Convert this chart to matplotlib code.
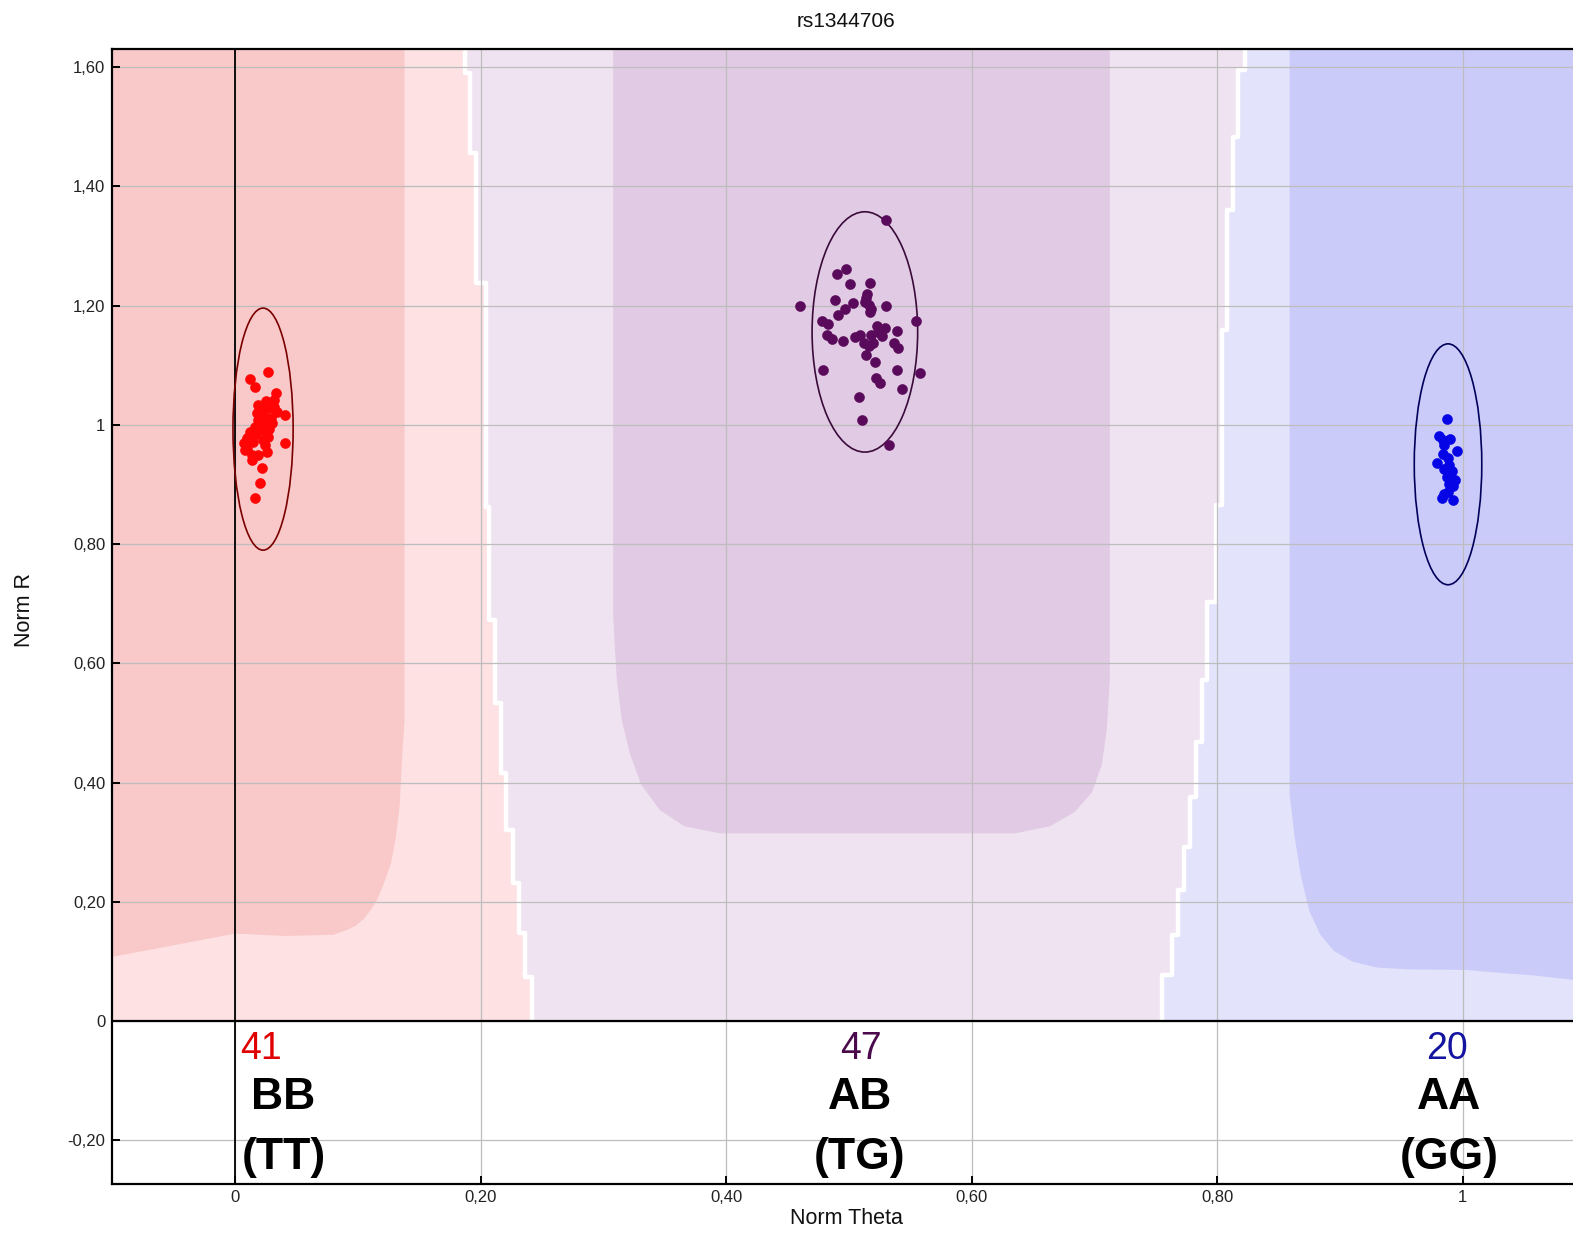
import matplotlib
matplotlib.use("Agg")
import matplotlib.pyplot as plt
from matplotlib.patches import Ellipse

plt.rcParams["font.family"] = ["Liberation Sans", "DejaVu Sans"]

TITLE = "rs1344706"
XMIN, XMAX = -0.1, 1.0955
YMIN, YMAX = -0.273, 1.630

X_TICKS = [0, 0.2, 0.4, 0.6, 0.8, 1]
X_TICK_LABELS = ["0", "0,20", "0,40", "0,60", "0,80", "1"]
Y_TICKS = [-0.2, 0, 0.2, 0.4, 0.6, 0.8, 1, 1.2, 1.4, 1.6]
Y_TICK_LABELS = ["-0,20", "0", "0,20", "0,40", "0,60", "0,80", "1", "1,20", "1,40", "1,60"]

# cluster calls (Norm Theta, Norm R)
BB_X = [0.027, 0.012, 0.016, 0.033, 0.032, 0.019, 0.028, 0.041, 0.023, 0.019,
        0.026, 0.016, 0.030, 0.012, 0.022, 0.010, 0.027, 0.015, 0.007, 0.041,
        0.024, 0.008, 0.026, 0.019, 0.014, 0.022, 0.020, 0.016, 0.025, 0.022,
        0.029, 0.017, 0.023, 0.010, 0.032, 0.020, 0.028, 0.014, 0.025, 0.018,
        0.034]
BB_Y = [1.089, 1.077, 1.063, 1.053, 1.042, 1.034, 1.028, 1.017, 1.017, 1.008,
        1.006, 0.997, 1.003, 0.989, 0.992, 0.978, 0.980, 0.972, 0.969, 0.969,
        0.966, 0.958, 0.955, 0.950, 0.941, 0.927, 0.902, 0.877, 1.040, 1.025,
        1.012, 0.985, 0.975, 0.960, 1.030, 0.998, 0.993, 0.950, 1.000, 1.020,
        1.022]

AB_X = [0.530, 0.498, 0.490, 0.501, 0.517, 0.460, 0.489, 0.514, 0.516, 0.530,
        0.497, 0.491, 0.517, 0.555, 0.478, 0.483, 0.523, 0.529, 0.539, 0.482,
        0.509, 0.518, 0.527, 0.486, 0.495, 0.512, 0.520, 0.537, 0.540, 0.514,
        0.521, 0.479, 0.539, 0.558, 0.522, 0.525, 0.543, 0.508, 0.511, 0.533,
        0.515, 0.513, 0.518, 0.505, 0.524, 0.516, 0.503]
AB_Y = [1.344, 1.262, 1.253, 1.237, 1.238, 1.200, 1.209, 1.213, 1.201, 1.200,
        1.194, 1.185, 1.190, 1.174, 1.175, 1.169, 1.166, 1.162, 1.158, 1.151,
        1.151, 1.151, 1.149, 1.144, 1.140, 1.138, 1.137, 1.138, 1.129, 1.117,
        1.105, 1.092, 1.092, 1.087, 1.078, 1.070, 1.060, 1.047, 1.008, 0.966,
        1.220, 1.207, 1.195, 1.148, 1.156, 1.132, 1.205]

AA_X = [0.987, 0.981, 0.990, 0.985, 0.995, 0.984, 0.988, 0.979, 0.989, 0.985,
        0.991, 0.987, 0.994, 0.989, 0.992, 0.985, 0.983, 0.992, 0.988, 0.984]
AA_Y = [1.010, 0.982, 0.976, 0.966, 0.957, 0.951, 0.944, 0.936, 0.933, 0.926,
        0.922, 0.913, 0.907, 0.901, 0.897, 0.885, 0.877, 0.874, 0.888, 0.975]

COUNTS = ["41", "47", "20"]
CALLS = ["BB", "AB", "AA"]
ALLELES = ["(TT)", "(TG)", "(GG)"]

# cluster ellipses: centre x, centre y, width, height
ELL_X = [0.0228, 0.513, 0.988]
ELL_Y = [0.993, 1.156, 0.934]
ELL_W = [0.049, 0.086, 0.055]
ELL_H = [0.406, 0.403, 0.404]

# call-region boundaries, stepped (y breaks top -> bottom, x per step)
BB_AB_Y = [1.631, 1.591, 1.456, 1.238, 0.862, 0.673, 0.534, 0.416, 0.320,
           0.232, 0.148, 0.074, 0.0]
BB_AB_X = [0.187, 0.191, 0.196, 0.204, 0.207, 0.212, 0.217, 0.221, 0.226,
           0.231, 0.236, 0.242]
AB_AA_Y = [1.631, 1.596, 1.483, 1.361, 1.159, 0.866, 0.703, 0.572, 0.468,
           0.376, 0.292, 0.220, 0.144, 0.077, 0.0]
AB_AA_X = [0.823, 0.817, 0.813, 0.808, 0.804, 0.799, 0.792, 0.788, 0.783,
           0.778, 0.773, 0.768, 0.763, 0.755]

# dense cores of the call regions
BB_CORE_X = [0.138, 0.138, 0.136, 0.134, 0.131, 0.127, 0.121, 0.116, 0.111,
             0.105, 0.098, 0.091, 0.080, 0.040, 0.0, -0.056, -0.100]
BB_CORE_Y = [1.630, 0.505, 0.440, 0.360, 0.310, 0.265, 0.230, 0.205, 0.188,
             0.172, 0.160, 0.153, 0.145, 0.143, 0.147, 0.125, 0.108]
AB_CORE_X = [0.308, 0.308, 0.309, 0.311, 0.315, 0.322, 0.331, 0.346, 0.366,
             0.395, 0.635, 0.664, 0.684, 0.698, 0.706, 0.710, 0.7125, 0.7125]
AB_CORE_Y = [1.630, 0.680, 0.639, 0.572, 0.505, 0.446, 0.396, 0.354, 0.327,
             0.315, 0.315, 0.327, 0.351, 0.384, 0.430, 0.488, 0.572, 1.630]
AA_CORE_X = [0.859, 0.859, 0.863, 0.868, 0.875, 0.884, 0.895, 0.910, 0.930,
             0.955, 1.003, 1.030, 1.057, 1.0955]
AA_CORE_Y = [1.630, 0.380, 0.310, 0.245, 0.185, 0.145, 0.118, 0.100, 0.090,
             0.087, 0.086, 0.081, 0.077, 0.068]

LIGHT_COLORS = ["#FDE1E3", "#F0E3F1", "#E3E3FB"]
CORE_COLORS = ["#F9C8C9", "#E1CAE3", "#CBCBF9"]
POINT_COLORS = ["#FF0505", "#5A0A5A", "#0505E6"]
ELL_COLORS = ["#7A0000", "#3A0A3A", "#00005A"]
LABEL_COLORS = ["#E00000", "#4B0A4B", "#1414A0"]
COUNT_X = [0.0212, 0.510, 0.987]
CALL_X = [0.0395, 0.509, 0.989]


def _steps(xs, ys):
    pts = []
    for i, x in enumerate(xs):
        pts.append((x, ys[i]))
        pts.append((x, ys[i + 1]))
    return pts


fig = plt.figure(figsize=(15.73, 12.35), dpi=100)
ax = fig.add_axes([112.3 / 1573, 1 - 1184 / 1235, (1580 - 112.3) / 1573, (1184 - 49.3) / 1235])

left = _steps(BB_AB_X, BB_AB_Y)
right = _steps(AB_AA_X, AB_AA_Y)

bb_poly = [(XMIN, YMAX)] + left + [(XMIN, 0.0)]
ab_poly = left + right[::-1]
aa_poly = right + [(XMAX, 0.0), (XMAX, YMAX)]
for poly, col in zip([bb_poly, ab_poly, aa_poly], LIGHT_COLORS):
    xs, ys = zip(*poly)
    ax.fill(xs, ys, color=col, lw=0, zorder=0.5)

ax.fill([XMIN] + BB_CORE_X, [YMAX] + BB_CORE_Y, color=CORE_COLORS[0], lw=0, zorder=0.8)
ax.fill(AB_CORE_X, AB_CORE_Y, color=CORE_COLORS[1], lw=0, zorder=0.8)
ax.fill(AA_CORE_X + [XMAX], AA_CORE_Y + [YMAX], color=CORE_COLORS[2], lw=0, zorder=0.8)

for pts in [left, right]:
    xs, ys = zip(*pts)
    ax.plot(xs, ys, color="white", lw=3.2, solid_capstyle="butt", zorder=1.2)

ax.grid(True, color="#BDBDBD", linewidth=0.9)
ax.axvline(0, color="black", lw=1.3, zorder=2.5)
ax.axhline(0, color="black", lw=1.6, zorder=2.5)

for i in range(3):
    ax.add_patch(Ellipse((ELL_X[i], ELL_Y[i]), ELL_W[i], ELL_H[i], fill=False,
                         edgecolor=ELL_COLORS[i], lw=1.2, zorder=3))

for xs, ys, col in zip([BB_X, AB_X, AA_X], [BB_Y, AB_Y, AA_Y], POINT_COLORS):
    ax.scatter(xs, ys, s=52, color=col, edgecolors=col, linewidths=0.4, zorder=4)

for i in range(3):
    ax.text(COUNT_X[i], -0.046, COUNTS[i], color=LABEL_COLORS[i], fontsize=27,
            ha="center", va="center", zorder=5)
    ax.text(CALL_X[i], -0.128, CALLS[i], color="black", fontsize=32,
            fontweight="bold", ha="center", va="center", zorder=5)
    ax.text(CALL_X[i], -0.229, ALLELES[i], color="black", fontsize=32,
            fontweight="bold", ha="center", va="center", zorder=5)

ax.set_xlim(XMIN, XMAX)
ax.set_ylim(YMIN, YMAX)
ax.set_xticks(X_TICKS)
ax.set_xticklabels(X_TICK_LABELS)
ax.set_yticks(Y_TICKS)
ax.set_yticklabels(Y_TICK_LABELS)
ax.tick_params(direction="in", length=6, width=1.4, labelsize=12,
               labelcolor="#222222", pad=5)
ax.tick_params(axis="x", pad=4)
for side in ["left", "top", "bottom"]:
    ax.spines[side].set_linewidth(1.6)
ax.spines["right"].set_visible(False)

ax.set_title(TITLE, fontsize=15, pad=16, color="#111111")
ax.set_xlabel("Norm Theta", fontsize=15.5, color="#111111")
ax.xaxis.label.set_va("center")
ax.xaxis.set_label_coords(0.5, -0.030)
ax.set_ylabel("Norm R", fontsize=15.5, color="#111111")
ax.yaxis.label.set_va("center")
ax.yaxis.set_label_coords(-0.0595, 0.506)

plt.savefig("out.png", dpi=100)
plt.close()
